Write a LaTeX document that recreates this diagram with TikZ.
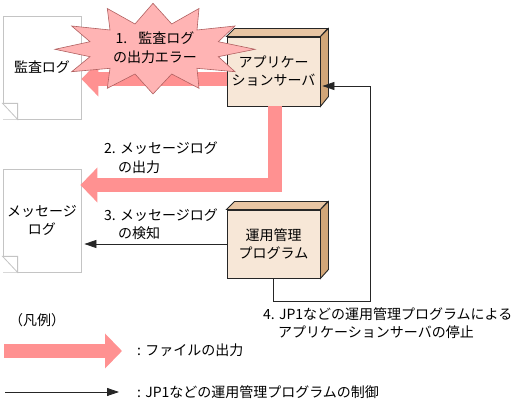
\documentclass[tikz,border=0pt]{standalone}
\usepackage{fontspec}
\setmainfont{Noto Sans CJK JP}
\usetikzlibrary{arrows.meta}
\definecolor{flowpink}{HTML}{FF9191}
\definecolor{burstpink}{HTML}{FFB4B4}
\definecolor{burstline}{HTML}{B06060}
\definecolor{boxfront}{HTML}{F7E7D7}
\definecolor{boxtop}{HTML}{E8C5A3}
\definecolor{boxside}{HTML}{D2A678}
\definecolor{docline}{HTML}{C4C4C4}
\tikzset{
  lbl/.style={font=\fontsize{14}{18.5}\selectfont,align=left,anchor=west,inner sep=0pt},
  docbox/.style={draw=docline,fill=white,line width=0.8pt,minimum width=78pt,align=center,font=\fontsize{14}{17.5}\selectfont,inner sep=0pt},
  srvbox/.style={draw=black!85,fill=boxfront,line width=0.9pt,minimum width=93pt,align=center,font=\fontsize{14}{18}\selectfont,inner sep=0pt},
  flow/.style={draw=flowpink,line width=14pt,-{Triangle[length=17pt,width=34pt]}},
  ctrl/.style={draw=black!85,line width=0.8pt,-{Triangle[length=12pt,width=8pt]}},
}
\begin{document}
\begin{tikzpicture}[x=1pt,y=-1pt]
\useasboundingbox (0,0) rectangle (515,403);
% files
\node[docbox,minimum height=103pt] (auditlog) at (42,67.5) {監査ログ};
\node[docbox,minimum height=103pt] (msglog) at (42,220.5) {メッセージ\\ログ};
\foreach \docname in {auditlog,msglog} {
  \fill[white] (\docname.south west) -- ++(0,-16) -- ++(15,16) -- cycle;
  \draw[docline,line width=0.8pt] (\docname.south west) ++(0,-16) -- ++(15,16) -- ++(0,-16) -- cycle;
}
% servers
\node[srvbox,minimum height=69pt] (appserver) at (273.5,71.5) {アプリケー\\ションサーバ};
\node[srvbox,minimum height=68pt] (opsprog) at (273.5,244) {運用管理\\プログラム};
\foreach \boxname in {appserver,opsprog} {
  \draw[black!85,fill=boxtop,line width=0.9pt] (\boxname.north west) -- ++(8,-8) -- ++(93,0) -- (\boxname.north east) -- cycle;
  \draw[black!85,fill=boxside,line width=0.9pt] (\boxname.north east) -- ++(8,-8) -- ++(0,68) -- (\boxname.south east) -- cycle;
}
% flows
\coordinate (legendfrom) at (4,351);
\coordinate (legendto) at (122,351);
\coordinate (bend) at (274.5,185);
\draw[flow] (appserver.west |- 0,79) -- (auditlog.east |- 0,79);
\draw[flow,line join=miter,shorten >=-1pt] (bend |- appserver.south) -- (bend) -- (msglog.east |- bend);
\draw[flow] (legendfrom) -- (legendto);
% burst
\draw[burstline,fill=burstpink,line width=0.6pt]
  (153,3.3) -- (171.7,24) -- (199,8.5) -- (197,30) -- (235,26) -- (218.3,41.7)
  -- (255,49.3) -- (218.3,56.7) -- (235,71.7) -- (197,68.3) -- (199,88.3) -- (171.7,74)
  -- (153,94) -- (135,74) -- (107.3,88.3) -- (110,68.3) -- (71.7,71.7) -- (90,56.7)
  -- (55,49.3) -- (90,41.7) -- (71.7,26) -- (110,30) -- (107.3,8.5) -- (135,24) -- cycle;
\node[font=\fontsize{14}{19}\selectfont,align=center,inner sep=0pt] (bursttext) at (155,47.5) {1.\hspace{11pt}監査ログ\\の出力エラー};
% control
\coordinate (ctrlbottom) at (273.5,301);
\coordinate (ctrlright) at (370,301);
\coordinate (ctrltop) at (370,86);
\coordinate (ctrlfrom) at (5,392);
\coordinate (ctrlto) at (119,392);
\draw[ctrl,shorten >=3pt] (opsprog.west) -- (msglog.east |- opsprog.west);
\draw[ctrl,shorten >=2pt] (opsprog.south -| ctrlbottom) -- (ctrlbottom) -- (ctrlright) -- (ctrltop) -- (appserver.east |- ctrltop);
\draw[ctrl] (ctrlfrom) -- (ctrlto);
% labels
\node[lbl] (lab2) at (104,157.5) {2. メッセージログ\\\hspace*{14pt}の出力};
\node[lbl] (lab3) at (104,224) {3. メッセージログ\\\hspace*{14pt}の検知};
\node[lbl] (lab4) at (263,323) {4. JP1などの運用管理プログラムによる\\\hspace*{15pt}アプリケーションサーバの停止};
\node[lbl] (legendhead) at (9,320) {（凡例）};
\node[lbl] (legendflow) at (137,350) {: ファイルの出力};
\node[lbl] (legendctrl) at (137,392) {: JP1などの運用管理プログラムの制御};
\end{tikzpicture}
\end{document}
